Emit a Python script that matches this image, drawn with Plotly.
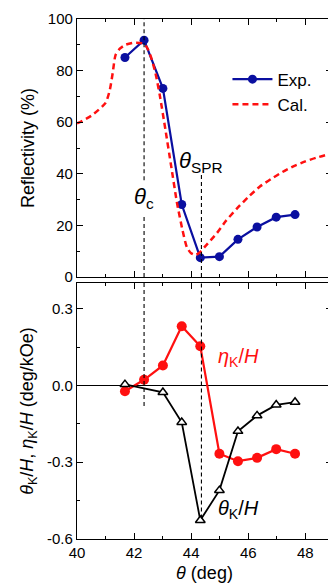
import plotly.graph_objects as go

# ---- data ----
exp_theta = [41.68, 42.35, 43.01, 43.67, 44.32, 44.99, 45.64, 46.31, 46.98, 47.64]
exp_refl = [85.1, 91.8, 73.1, 28.1, 7.5, 7.9, 14.6, 19.4, 23.2, 24.2]

cal_theta = [40.0, 40.5, 41.0, 41.15, 41.25, 41.35, 41.5, 41.7, 42.0, 42.3, 42.45, 42.6,
             42.75, 42.9, 43.1, 43.3, 43.5, 43.7, 43.85, 44.0, 44.15, 44.3, 44.5, 44.9,
             45.2, 45.6, 46.0, 46.4, 46.8, 47.2, 47.6, 48.0, 48.4, 48.9]
cal_refl = [59.5, 62.5, 67.5, 72.5, 79, 86, 88.5, 90, 90.8, 90.5, 89, 85,
            79, 70.5, 57, 43, 29, 18, 11.5, 9.2, 8.5, 9.5, 12, 17,
            21.5, 26.5, 31, 35, 38, 40.7, 43, 44.8, 46.3, 47.8]

eta_theta = [41.68, 42.35, 43.01, 43.67, 44.32, 44.99, 45.64, 46.31, 46.98, 47.64]
eta_k = [-0.023, 0.022, 0.078, 0.231, 0.153, -0.267, -0.296, -0.283, -0.249, -0.267]

thk_theta = [41.68, 43.01, 43.67, 44.32, 44.99, 45.64, 46.31, 46.98, 47.64]
theta_k = [0.004, -0.027, -0.144, -0.527, -0.41, -0.179, -0.118, -0.076, -0.065]

theta_c = 42.35
theta_spr = 44.36

x_ticks = [40, 42, 44, 46, 48]
y1_ticks = [0, 20, 40, 60, 80, 100]
y2_ticks = [-0.6, -0.3, 0.0, 0.3]

BLUE = "#0A0FA0"
RED = "#FF1010"
FONT = "Liberation Sans, Arial, sans-serif"

fig = go.Figure()
fig.add_trace(go.Scatter(x=exp_theta, y=exp_refl, mode="lines+markers", name="Exp.",
                         line=dict(color=BLUE, width=2.2),
                         marker=dict(color=BLUE, size=9, symbol="circle"),
                         xaxis="x", yaxis="y"))
fig.add_trace(go.Scatter(x=cal_theta, y=cal_refl, mode="lines", name="Cal.",
                         line=dict(color=RED, width=2.5, dash="6px,4px", shape="spline", smoothing=0.6),
                         xaxis="x", yaxis="y"))
fig.add_trace(go.Scatter(x=eta_theta, y=eta_k, mode="lines+markers", showlegend=False,
                         line=dict(color=RED, width=2.2),
                         marker=dict(color=RED, size=10, symbol="circle"),
                         xaxis="x2", yaxis="y2"))
fig.add_trace(go.Scatter(x=thk_theta, y=theta_k, mode="lines+markers", showlegend=False,
                         line=dict(color="black", width=1.8),
                         marker=dict(color="white", size=8.5, symbol="triangle-up",
                                     line=dict(color="black", width=1.5)),
                         xaxis="x2", yaxis="y2"))

# figure is slightly wider than the window so the right frame falls just outside (as in the reference)
xr = [40, 48.935]
common_x = dict(range=xr, ticks="inside", ticklen=6, tickwidth=1.2, tickcolor="black",
                showline=True, linecolor="black", linewidth=1.2, mirror="ticks",
                tickvals=x_ticks, minor=dict(dtick=1, tick0=40, ticks="inside", ticklen=3,
                                             tickcolor="black", tickwidth=1),
                showgrid=False, zeroline=False, automargin=False,
                tickfont=dict(family=FONT, size=15, color="black"))

fig.update_layout(
    width=332, height=588,
    margin=dict(l=77, r=0, t=19, b=49, autoexpand=False),
    paper_bgcolor="white", plot_bgcolor="white",
    font=dict(family=FONT, color="black"),
    xaxis=dict(**common_x, domain=[0, 1], anchor="y", showticklabels=False),
    yaxis=dict(domain=[0.5038, 1], range=[0, 100], anchor="x", automargin=False,
               tickvals=y1_ticks, ticks="inside", ticklen=6, tickwidth=1.2, tickcolor="black",
               minor=dict(dtick=10, tick0=0, ticks="inside", ticklen=3, tickcolor="black", tickwidth=1),
               showline=True, linecolor="black", linewidth=1.2, mirror="ticks",
               showgrid=False, zeroline=False,
               tickfont=dict(family=FONT, size=15, color="black"),
               title=dict(text="Reflectivity (%)", font=dict(family=FONT, size=18), standoff=8)),
    xaxis2=dict(**common_x, domain=[0, 1], anchor="y2",
                title=dict(text="<i>θ</i> (deg)", font=dict(family=FONT, size=18), standoff=6)),
    yaxis2=dict(domain=[0, 0.4923], range=[-0.6, 0.4], anchor="x2", automargin=False,
                tickvals=y2_ticks, ticktext=["-0.6", "-0.3", "0.0", "0.3"],
                ticks="inside", ticklen=6, tickwidth=1.2, tickcolor="black",
                minor=dict(dtick=0.15, tick0=0, ticks="inside", ticklen=3, tickcolor="black", tickwidth=1),
                showline=True, linecolor="black", linewidth=1.2, mirror="ticks",
                showgrid=False, zeroline=True, zerolinecolor="black", zerolinewidth=1.2,
                tickfont=dict(family=FONT, size=15, color="black"),
                title=dict(text="<i>θ</i><sub>K</sub>/<i>H</i>, <i>η</i><sub>K</sub>/<i>H</i> (deg/kOe)",
                           font=dict(family=FONT, size=18), standoff=8)),
    legend=dict(x=0.59, y=0.918, xanchor="left", yanchor="top",
                bgcolor="rgba(0,0,0,0)", font=dict(family=FONT, size=17),
                tracegroupgap=0, itemwidth=40),
    showlegend=True,
)

dash_line = dict(color="black", width=1.1, dash="4px,3px")
# theta_c line: top panel (with a gap for label) and bottom panel
fig.add_shape(type="line", xref="x", yref="y", x0=theta_c, x1=theta_c, y0=37.5, y1=100, line=dash_line)
fig.add_shape(type="line", xref="x", yref="y", x0=theta_c, x1=theta_c, y0=0, y1=24, line=dash_line)
fig.add_shape(type="line", xref="x2", yref="y2", x0=theta_c, x1=theta_c, y0=-0.08, y1=0.4, line=dash_line)
# theta_SPR line
fig.add_shape(type="line", xref="x", yref="y", x0=theta_spr, x1=theta_spr, y0=0, y1=39.5, line=dash_line)
fig.add_shape(type="line", xref="x2", yref="y2", x0=theta_spr, x1=theta_spr, y0=-0.52, y1=0.4, line=dash_line)

fig.add_annotation(x=theta_spr, y=44.5, xref="x", yref="y", showarrow=False,
                   text="<i>θ</i><sub>SPR</sub>", font=dict(family=FONT, size=22, color="black"))
fig.add_annotation(x=theta_c, y=30.5, xref="x", yref="y", showarrow=False,
                   text="<i>θ</i><sub>c</sub>", font=dict(family=FONT, size=22, color="black"))
fig.add_annotation(x=45.65, y=0.11, xref="x2", yref="y2", showarrow=False,
                   text="<i>η</i><sub>K</sub>/<i>H</i>", font=dict(family=FONT, size=20, color=RED))
fig.add_annotation(x=45.65, y=-0.485, xref="x2", yref="y2", showarrow=False,
                   text="<i>θ</i><sub>K</sub>/<i>H</i>", font=dict(family=FONT, size=20, color="black"))

fig.write_html("out.html", config={"displayModeBar": False},
               post_script="document.body.style.margin='0';document.body.style.overflow='hidden';")
